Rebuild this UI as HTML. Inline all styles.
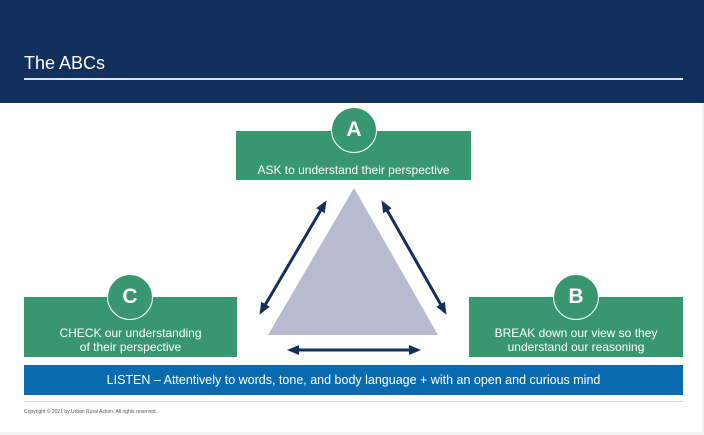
<!DOCTYPE html>
<html><head><style>
body{margin:0;width:704px;height:435px;background:#f2f2f2;font-family:"Liberation Sans",sans-serif;position:relative;overflow:hidden}
.page{position:absolute;left:0;top:0;width:702px;height:432px;background:#fff}
.hdr{position:absolute;left:0;top:0;width:704px;height:103px;background:#12305c}
.title{position:absolute;left:24px;top:53px;color:#fff;font-size:18px}
.hl{position:absolute;left:24px;top:78px;width:659px;height:2px;background:#dfe3ea}
.box{position:absolute;background:#38976f;color:#fff;font-size:12px;text-align:center;line-height:14px}
.circ{position:absolute;width:44px;height:44px;border-radius:50%;background:#38976f;border:1.5px solid #fff;color:#fff;font-size:21px;font-weight:bold;text-align:center;line-height:44px}
.bar{position:absolute;left:24px;top:365px;width:659px;height:30px;background:#0a6ab0;color:#fff;font-size:12.5px;text-align:center;line-height:30px}
</style></head><body>
<div class="page"></div>
<div class="hdr"></div>
<div class="title">The ABCs</div>
<div class="hl"></div>
<div class="box" style="left:236px;top:131px;width:235px;height:49px"><div style="position:absolute;top:32px;width:100%">ASK to understand their perspective</div></div>
<div class="box" style="left:24px;top:297px;width:213px;height:60px"><div style="position:absolute;top:29px;width:100%">CHECK our understanding<br>of their perspective</div></div>
<div class="box" style="left:469px;top:297px;width:214px;height:60px"><div style="position:absolute;top:29px;width:100%">BREAK down our view so they<br>understand our reasoning</div></div>
<div class="circ" style="left:331px;top:107px">A</div>
<div class="circ" style="left:107px;top:274px">C</div>
<div class="circ" style="left:553px;top:274px">B</div>
<svg style="position:absolute;left:0;top:0" width="704" height="435">
<defs><marker id="m" markerWidth="12" markerHeight="10" refX="9" refY="5" orient="auto-start-reverse" markerUnits="userSpaceOnUse"><path d="M0,0 L12,5 L0,10 Z" fill="#12305c"/></marker></defs>
<polygon points="354,188 268,335 438,335" fill="#b8bad0"/>
<line x1="325" y1="203" x2="261" y2="312" stroke="#12305c" stroke-width="3" marker-start="url(#m)" marker-end="url(#m)"/>
<line x1="383" y1="203" x2="445" y2="312" stroke="#12305c" stroke-width="3" marker-start="url(#m)" marker-end="url(#m)"/>
<line x1="290" y1="350" x2="418" y2="350" stroke="#12305c" stroke-width="3" marker-start="url(#m)" marker-end="url(#m)"/>
</svg>
<div class="bar">LISTEN – Attentively to words, tone, and body language + with an open and curious mind</div>
<div style="position:absolute;left:24px;top:401px;width:659px;height:1px;background:#d8d8d8"></div>
<div style="position:absolute;left:24px;top:409px;font-size:5px;color:#555">Copyright © 2021 by Urban Rural Action. All rights reserved.</div>
</body></html>
